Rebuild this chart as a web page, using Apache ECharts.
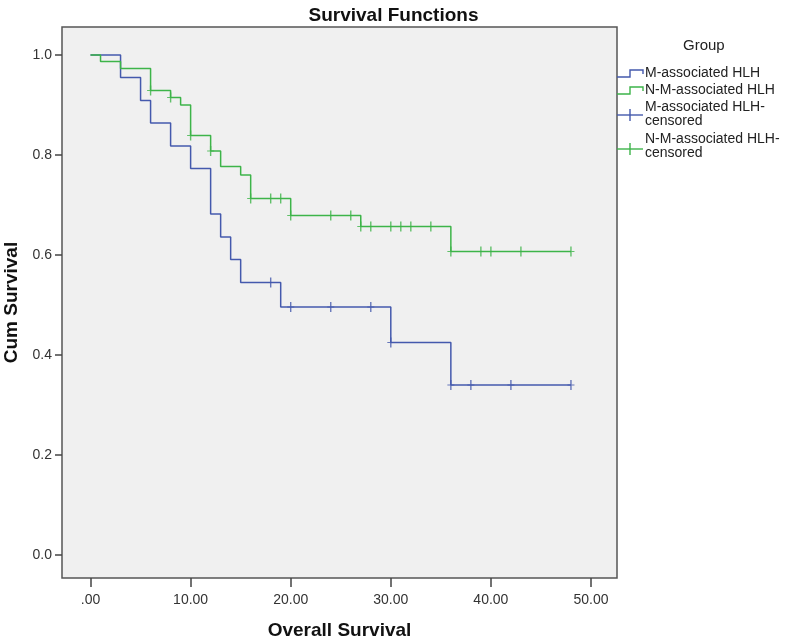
<!DOCTYPE html>
<html>
<head>
<meta charset="utf-8">
<script src="https://cdn.jsdelivr.net/npm/echarts@6/dist/echarts.min.js"></script>
<style>
html,body{margin:0;padding:0;background:#fff;}
#chart{width:787px;height:639px;}
</style>
</head>
<body>
<div id="chart"></div>
<script>
// ---- data ----
var groupNames = ['M-associated HLH', 'N-M-associated HLH'];
var censorNames = ['M-associated HLH-\ncensored', 'N-M-associated HLH-\ncensored'];

var mTimes = [0, 3, 5, 6, 8, 10, 12, 13, 14, 15, 19, 30, 36, 48];
var mSurv  = [1.0, 0.955, 0.909, 0.864, 0.818, 0.773, 0.682, 0.636, 0.591, 0.545, 0.496, 0.425, 0.340, 0.340];
var mCensorTimes = [18, 20, 24, 28, 30, 36, 38, 42, 48];

var nTimes = [0, 1, 3, 6, 8, 9, 10, 12, 13, 15, 16, 20, 27, 36, 48];
var nSurv  = [1.0, 0.987, 0.973, 0.929, 0.915, 0.900, 0.839, 0.808, 0.777, 0.760, 0.713, 0.679, 0.657, 0.607, 0.607];
var nCensorTimes = [6, 8, 10, 12, 16, 18, 19, 20, 24, 26, 27, 28, 30, 31, 32, 34, 36, 39, 40, 43, 48];

var xTickValues = [0, 10, 20, 30, 40, 50];
var xTickLabels = ['.00', '10.00', '20.00', '30.00', '40.00', '50.00'];
var yTickValues = [0, 0.2, 0.4, 0.6, 0.8, 1.0];
var yTickLabels = ['0.0', '0.2', '0.4', '0.6', '0.8', '1.0'];

// ---- helpers ----
function pairs(ts, ss) { return ts.map(function (t, i) { return [t, ss[i]]; }); }
function survAt(ts, ss, t) {
  var v = ss[0];
  for (var i = 0; i < ts.length; i++) { if (ts[i] <= t) v = ss[i]; }
  return v;
}
function censorPts(cts, ts, ss) { return cts.map(function (t) { return [t, survAt(ts, ss, t)]; }); }

var BLUE = '#4459ad';
var GREEN = '#3db449';
var FONT = 'Liberation Sans, Arial, sans-serif';
var PLUS = 'path://M2.8,0h1.4v4.4h2.8v1.2h-2.8v4.4h-1.4v-4.4h-2.8v-1.2h2.8z';

var chart = echarts.init(document.getElementById('chart'), null, {renderer: 'canvas'});

var option = {
  backgroundColor: '#ffffff',
  animation: false,
  title: {
    text: 'Survival Functions',
    left: 'center',
    top: 1,
    textStyle: {fontFamily: FONT, fontSize: 19, fontWeight: 'bold', color: '#111'}
  },
  grid: {
    left: 62, top: 27, right: 170, bottom: 61,
    outerBoundsMode: 'none', containLabel: false,
    show: true, backgroundColor: '#f0f0f0', borderColor: '#555', borderWidth: 1.5
  },
  xAxis: {
    type: 'value', min: -2.85, max: 52.6,
    name: 'Overall Survival', nameLocation: 'middle', nameGap: 43,
    nameTextStyle: {fontFamily: FONT, fontSize: 19, fontWeight: 'bold', color: '#111'},
    axisLine: {show: false, onZero: false},
    splitLine: {show: false},
    axisTick: {show: true, inside: false, length: 9, customValues: xTickValues,
      lineStyle: {color: '#444', width: 1.5}},
    axisLabel: {show: true, margin: 15, customValues: xTickValues,
      fontFamily: FONT, fontSize: 14, color: '#333',
      formatter: function (v) { var i = xTickValues.indexOf(v); return i >= 0 ? xTickLabels[i] : ''; }}
  },
  yAxis: {
    type: 'value', min: -0.046, max: 1.056,
    name: 'Cum Survival', nameLocation: 'middle', nameGap: 34, nameRotate: 90,
    nameTextStyle: {fontFamily: FONT, fontSize: 19, fontWeight: 'bold', color: '#111'},
    axisLine: {show: false, onZero: false},
    splitLine: {show: false},
    axisTick: {show: true, inside: false, length: 7, customValues: yTickValues,
      lineStyle: {color: '#444', width: 1.5}},
    axisLabel: {show: true, margin: 10, customValues: yTickValues,
      fontFamily: FONT, fontSize: 14, color: '#333',
      formatter: function (v) {
        for (var i = 0; i < yTickValues.length; i++) { if (Math.abs(yTickValues[i] - v) < 1e-6) return yTickLabels[i]; }
        return '';
      }}
  },
  series: [
    {
      name: groupNames[0], type: 'line', step: 'end', showSymbol: false, symbol: 'none',
      data: pairs(mTimes, mSurv), lineStyle: {color: BLUE, width: 1.5}, z: 2
    },
    {
      name: groupNames[1], type: 'line', step: 'end', showSymbol: false, symbol: 'none',
      data: pairs(nTimes, nSurv), lineStyle: {color: GREEN, width: 1.5}, z: 3
    },
    {
      name: censorNames[0], type: 'scatter', symbol: PLUS, symbolSize: [7, 10],
      data: censorPts(mCensorTimes, mTimes, mSurv), itemStyle: {color: BLUE}, z: 4
    },
    {
      name: censorNames[1], type: 'scatter', symbol: PLUS, symbolSize: [7, 10],
      data: censorPts(nCensorTimes, nTimes, nSurv), itemStyle: {color: GREEN}, z: 5
    }
  ],
  graphic: [
    {type: 'text', left: 683, top: 38, style: {text: 'Group', fontFamily: FONT, fontSize: 15, fill: '#222'}},
    {type: 'polyline', shape: {points: [[617, 77], [630, 77], [630, 70], [643, 70], [643, 74]]},
      style: {stroke: BLUE, lineWidth: 1.4, fill: null}},
    {type: 'text', left: 645, top: 66, style: {text: groupNames[0], fontFamily: FONT, fontSize: 14, fill: '#222'}},
    {type: 'polyline', shape: {points: [[617, 94], [630, 94], [630, 87], [643, 87], [643, 91]]},
      style: {stroke: GREEN, lineWidth: 1.4, fill: null}},
    {type: 'text', left: 645, top: 83, style: {text: groupNames[1], fontFamily: FONT, fontSize: 14, fill: '#222'}},
    {type: 'line', shape: {x1: 617, y1: 115, x2: 643, y2: 115}, style: {stroke: BLUE, lineWidth: 1.4}},
    {type: 'line', shape: {x1: 630, y1: 109, x2: 630, y2: 121}, style: {stroke: BLUE, lineWidth: 1.4}},
    {type: 'text', left: 645, top: 100, style: {text: censorNames[0], fontFamily: FONT, fontSize: 14, lineHeight: 14, fill: '#222'}},
    {type: 'line', shape: {x1: 617, y1: 149, x2: 643, y2: 149}, style: {stroke: GREEN, lineWidth: 1.4}},
    {type: 'line', shape: {x1: 630, y1: 143, x2: 630, y2: 155}, style: {stroke: GREEN, lineWidth: 1.4}},
    {type: 'text', left: 645, top: 132, style: {text: censorNames[1], fontFamily: FONT, fontSize: 14, lineHeight: 14, fill: '#222'}}
  ]
};
chart.setOption(option);
</script>
</body>
</html>
